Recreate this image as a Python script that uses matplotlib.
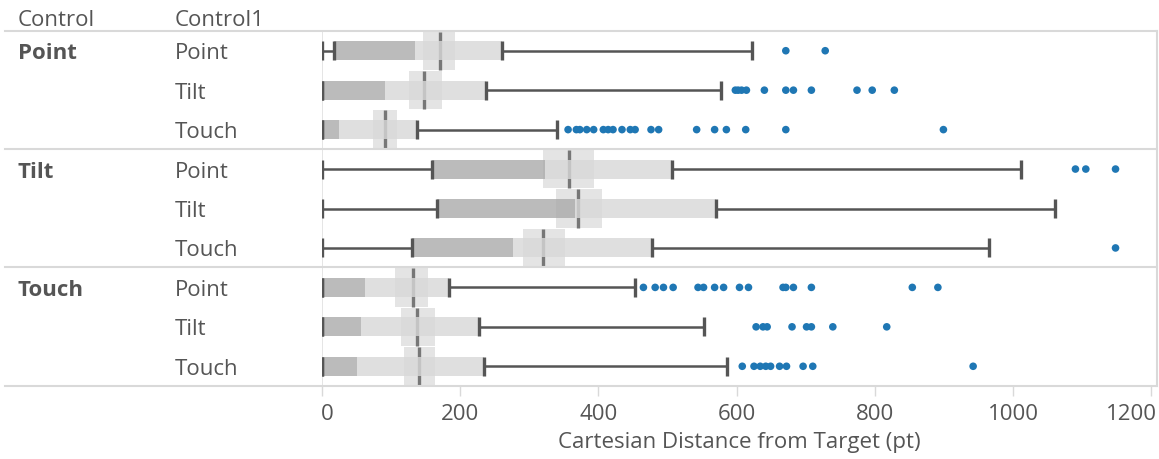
import matplotlib.pyplot as plt
import matplotlib.transforms as mtransforms
from matplotlib.lines import Line2D

plt.rcParams['font.family'] = ['Open Sans', 'DejaVu Sans']

# Row headers: outer control, inner control
groups = ["Point", "Tilt", "Touch"]
subgroups = ["Point", "Tilt", "Touch"]

# Box plot statistics per row (pt), top to bottom
whisker_lo = [0, 0, 0, 0, 0, 0, 0, 0, 0]
q1 = [18, 0, 0, 159, 167, 130, 0, 0, 0]
median = [134, 91, 25, 323, 366, 277, 62, 56, 50]
q3 = [261, 237, 137, 507, 570, 478, 184, 227, 235]
whisker_hi = [622, 577, 340, 1011, 1060, 965, 453, 553, 586]

# Mean with confidence band
mean = [171, 148, 91, 357, 371, 319, 131, 137, 140]
ci_lo = [146, 126, 74, 320, 338, 291, 106, 115, 118]
ci_hi = [193, 174, 108, 394, 405, 352, 154, 163, 163]

outliers = [
    [671, 728],
    [598, 602, 607, 614, 640, 671, 682, 708, 774, 796, 828],
    [356, 368, 373, 383, 393, 407, 414, 421, 434, 446, 453, 476, 487,
     542, 568, 585, 613, 671, 899],
    [1090, 1105, 1148],
    [],
    [1148],
    [465, 482, 494, 508, 544, 552, 568, 581, 604, 617, 667, 671, 682,
     708, 854, 891],
    [628, 638, 644, 680, 701, 708, 739, 817],
    [608, 625, 634, 642, 649, 662, 672, 696, 710, 942],
]

W, H = 1159, 460
TXT = "#555555"
LINE = "#d9d9d9"
FS = 16


def fx(px):
    return px / W


def fy(py):
    return 1 - py / H


fig = plt.figure(figsize=(W / 100, H / 100), dpi=100)
ax = fig.add_axes([fx(322), fy(387), (1157 - 322) / W, (387 - 32) / H])

rows = list(range(len(median)))
box_h = 0.48
band_h = 0.97

# confidence band and mean line sit under the boxes
ax.barh(rows, [h - l for l, h in zip(ci_lo, ci_hi)], left=ci_lo,
        height=band_h, color="#d2d2d2", alpha=0.6, zorder=1)
ax.vlines(mean, [r - band_h / 2 for r in rows], [r + band_h / 2 for r in rows],
          color="#777777", lw=2.4, zorder=2)

# lower box (q1-median) darker, upper box (median-q3) lighter
ax.barh(rows, [m - a for a, m in zip(q1, median)], left=q1,
        height=box_h, color="#aaaaaa", alpha=0.8, zorder=3)
ax.barh(rows, [b - m for m, b in zip(median, q3)], left=median,
        height=box_h, color="#d8d8d8", alpha=0.8, zorder=3)

# whiskers with caps
ax.hlines(rows, whisker_lo, q1, color="#555555", lw=1.8, zorder=4)
ax.hlines(rows, q3, whisker_hi, color="#555555", lw=1.8, zorder=4)
for vals in (whisker_lo, q1, q3, whisker_hi):
    ax.vlines(vals, [r - box_h / 2 for r in rows], [r + box_h / 2 for r in rows],
              color="#555555", lw=2.4, zorder=4)

# outliers
for r, pts in enumerate(outliers):
    ax.scatter(pts, [r] * len(pts), s=30, color="#1f77b4", edgecolors="none",
               zorder=5)

ax.axvline(0, color="#e0e0e0", lw=1.2, zorder=0)
ax.set_xlim(0, 1208)
ax.set_ylim(8.5, -0.5)
ax.set_yticks([])
ax.set_xticks(range(0, 1201, 200))
ax.tick_params(axis="x", length=7, width=1, color="#d9d9d9", labelcolor=TXT,
               labelsize=FS, pad=5)
for s in ax.spines.values():
    s.set_visible(False)
ax.set_xlabel("Cartesian Distance from Target (pt)", fontsize=FS, color=TXT,
              labelpad=5)

# keep the end labels inside the pane
ticks = ax.xaxis.get_major_ticks()
ticks[0].label1.set_transform(ticks[0].label1.get_transform() +
                              mtransforms.ScaledTranslation(0.05, 0, fig.dpi_scale_trans))
ticks[-1].label1.set_horizontalalignment("right")
ticks[-1].label1.set_transform(ticks[-1].label1.get_transform() +
                               mtransforms.ScaledTranslation(0.05, 0, fig.dpi_scale_trans))

# header and row labels (nudged a touch below centre)
nudge = mtransforms.ScaledTranslation(0, -0.02, fig.dpi_scale_trans)
fig.text(fx(18), fy(19), "Control", fontsize=FS, color=TXT, va="center",
         transform=fig.transFigure + nudge)
fig.text(fx(175), fy(19), "Control1", fontsize=FS, color=TXT, va="center",
         transform=fig.transFigure + nudge)
trans = mtransforms.blended_transform_factory(fig.transFigure, ax.transData) + nudge
for gi, g in enumerate(groups):
    ax.text(fx(18), gi * 3, g, transform=trans, fontsize=FS, color=TXT,
            fontweight="bold", va="center", clip_on=False)
    for si, s in enumerate(subgroups):
        ax.text(fx(175), gi * 3 + si, s, transform=trans, fontsize=FS,
                color=TXT, va="center", clip_on=False)

# pane separators and border
for py in (32, 150, 268, 387):
    fig.add_artist(Line2D([fx(5), fx(1157)], [fy(py), fy(py)], color=LINE, lw=1.5))
fig.add_artist(Line2D([fx(1157), fx(1157)], [fy(32), fy(387)], color=LINE, lw=1.5))

fig.savefig("out.png", dpi=100)
